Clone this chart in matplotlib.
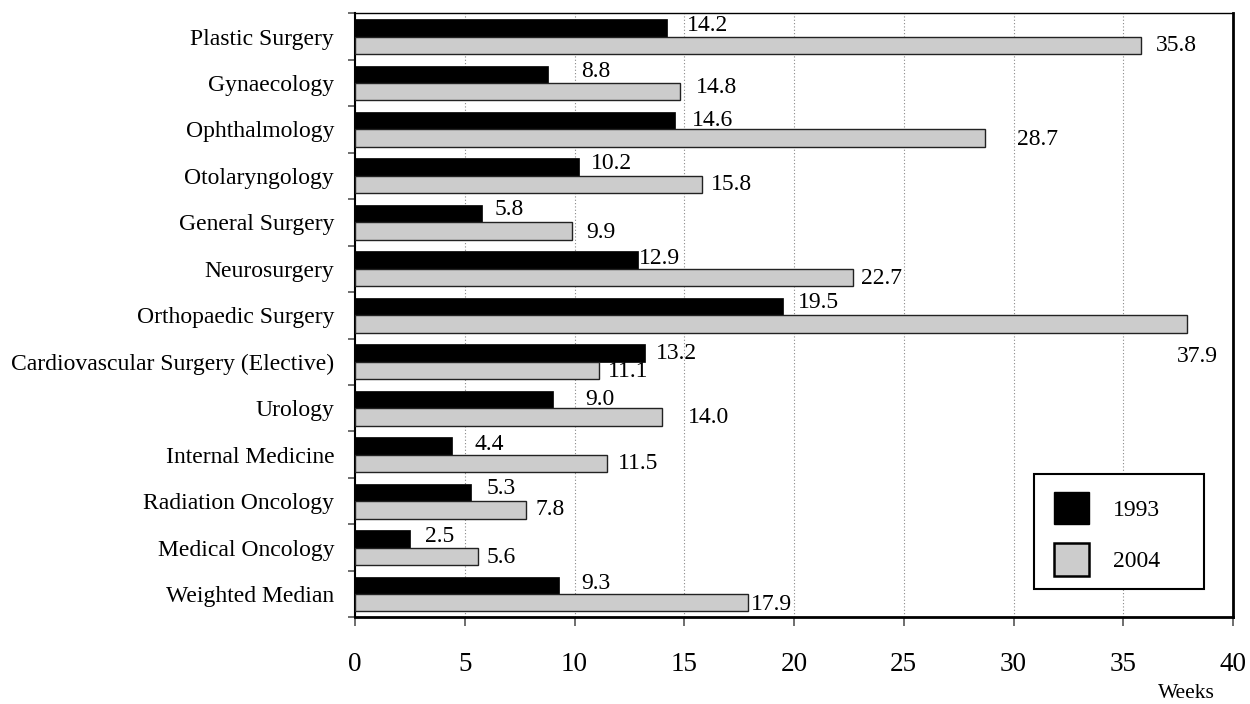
import numpy as np
import matplotlib
matplotlib.use("Agg")
import matplotlib.pyplot as plt
from matplotlib.patches import Patch, Rectangle

plt.rcParams['font.family'] = ['Liberation Serif', 'DejaVu Serif']

# Median wait (weeks) by specialty
specialties = [
    "Plastic Surgery", "Gynaecology", "Ophthalmology", "Otolaryngology",
    "General Surgery", "Neurosurgery", "Orthopaedic Surgery",
    "Cardiovascular Surgery (Elective)", "Urology", "Internal Medicine",
    "Radiation Oncology", "Medical Oncology", "Weighted Median",
]
weeks_1993 = [14.2, 8.8, 14.6, 10.2, 5.8, 12.9, 19.5, 13.2, 9.0, 4.4, 5.3, 2.5, 9.3]
weeks_2004 = [35.8, 14.8, 28.7, 15.8, 9.9, 22.7, 37.9, 11.1, 14.0, 11.5, 7.8, 5.6, 17.9]
series_names = ["1993", "2004"]
x_ticks = [0, 5, 10, 15, 20, 25, 30, 35, 40]

# Value-label nudges in pixels (right, down) from the end of each bar
nudge_1993 = [(20, -2), (33, -3), (16, 0), (12, -4), (12, -4), (1, -2), (15, -4),
              (11, 0), (33, 0), (23, -1), (15, -4), (15, -2), (22, -2)]
nudge_2004 = [(15, 0), (16, -4), (32, 1), (9, 0), (14, 1), (8, 1), (-10, 32),
              (9, 1), (26, 1), (10, 0), (9, 0), (9, 1), (3, 2)]

W, H = 1250, 704
fig = plt.figure(figsize=(W / 100, H / 100), dpi=100)
ax = fig.add_axes([355 / W, 1 - 617.3 / H, (1233 - 355) / W, (617.3 - 13.3) / H])

y = np.arange(len(specialties))
bh = 0.375
b1 = ax.barh(y - bh / 2, weeks_1993, height=bh, color="black", edgecolor="black",
             linewidth=0.5, zorder=3)
b2 = ax.barh(y + bh / 2, weeks_2004, height=bh, color="#cccccc", edgecolor="#222222",
             linewidth=1.0, zorder=3)

for vals, offs, dy in ((weeks_1993, nudge_1993, -bh / 2), (weeks_2004, nudge_2004, bh / 2)):
    for i, (v, (dx, dd)) in enumerate(zip(vals, offs)):
        ax.annotate(f"{v:.1f}", xy=(v, i + dy), xytext=(dx, -dd),
                    textcoords="offset pixels", ha="left", va="center",
                    fontsize=17, color="black", zorder=4)

ax.set_xlim(0, 40)
ax.set_ylim(len(specialties) - 0.5, -0.5)
ax.set_xticks(x_ticks)
ax.set_xticklabels([str(t) for t in x_ticks], fontsize=19.5)
ax.tick_params(axis="x", length=6.5, width=1.2, color="#555555", pad=18.5)

# category boundaries carry the tick marks, category centres carry the names
ax.set_yticks(np.arange(-0.5, len(specialties), 1.0))
ax.set_yticklabels([])
ax.set_yticks(y, labels=specialties, minor=True)
ax.tick_params(axis="y", which="major", length=5, width=1.2, color="#555555")
ax.tick_params(axis="y", which="minor", length=0, pad=15, labelsize=17)

ax.grid(axis="x", linestyle=(0, (1, 2)), color="#888888", linewidth=0.8, zorder=0)
ax.set_axisbelow(True)

ax.spines["top"].set_linewidth(1.0)
ax.spines["right"].set_linewidth(2.0)
ax.spines["bottom"].set_linewidth(2.0)
ax.spines["left"].set_linewidth(1.5)

fig.text(1186 / W, 1 - 694 / H, "Weeks", ha="center", va="center", fontsize=15.5)

# legend frame and entries
fig.patches.append(Rectangle((1034 / W, 1 - 589 / H), 170 / W, 115 / H,
                             transform=fig.transFigure, facecolor="white",
                             edgecolor="black", linewidth=1.5, zorder=5))
handles = [Patch(facecolor="black", edgecolor="black", linewidth=1.0),
           Patch(facecolor="#cccccc", edgecolor="black", linewidth=1.8)]
fig.legend(handles, series_names, loc="upper left",
           bbox_to_anchor=(1054 / W, 1 - 491.7 / H), frameon=False,
           fontsize=17, handlelength=1.5, handleheight=1.75,
           labelspacing=0.8, handletextpad=1.0, borderpad=0, borderaxespad=0)

fig.savefig("out.png", dpi=100)
